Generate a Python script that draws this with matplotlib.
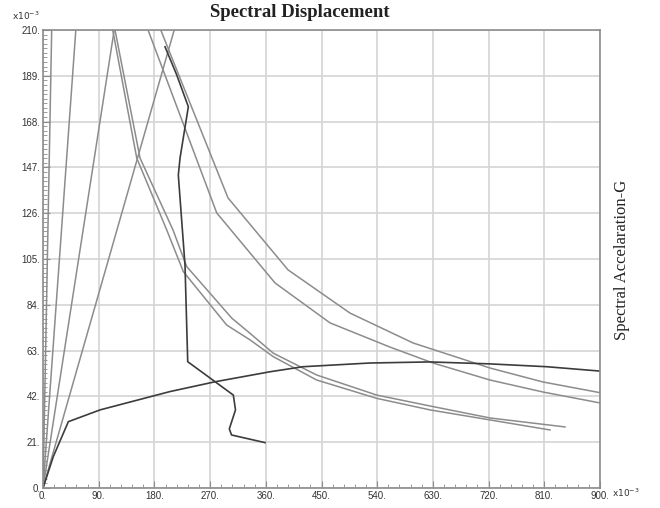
import matplotlib.pyplot as plt
from matplotlib.ticker import MultipleLocator

# Spectral displacement (x10^-3) / spectral acceleration (x10^-3 g) pairs

# constant-period radial lines: displacement reached at the top of the chart (Sa = 210)
period_tops = [14, 53, 115, 212]
sa_top = 210

# demand spectra (four damping levels)
demand_a_sd = [112.6, 151.4, 199.9, 226.7, 296.8, 334.5, 372.1, 442.2, 539.2, 625.3, 722.3, 819.2]
demand_a_sa = [210.0, 151.3, 118.3, 99.2, 74.7, 67.9, 60.2, 49.5, 41.1, 35.8, 31.2, 26.6]

demand_b_sd = [116.3, 156.7, 210.0, 232.2, 304.9, 334.5, 372.1, 442.2, 539.2, 625.3, 722.3, 843.4]
demand_b_sa = [210.0, 151.3, 118.3, 101.5, 77.9, 70.9, 61.8, 51.8, 42.6, 37.6, 32.1, 28.0]

demand_c_sd = [169.7, 280.7, 374.9, 463.7, 560.7, 630.2, 722.3, 807.9, 900.0]
demand_c_sa = [210.0, 126.1, 94.0, 75.7, 64.6, 57.3, 49.5, 44.0, 39.0]

demand_d_sd = [190.2, 298.9, 395.9, 496.0, 597.8, 722.3, 807.9, 900.0]
demand_d_sa = [210.0, 133.0, 100.0, 80.2, 66.5, 55.0, 48.6, 43.7]

# capacity curve
capacity_sd = [0, 16.6, 40.9, 92.1, 205.0, 278.0, 367.0, 420.0, 528.0, 625.0, 722.0, 814.0, 900.0]
capacity_sa = [0, 14.4, 30.4, 35.8, 44.2, 48.7, 53.3, 55.6, 57.3, 57.8, 56.9, 55.6, 53.6]

# performance point trace
perf_sd = [197.1, 216.0, 234.8, 221.4, 218.6, 229.4, 233.8, 307.5, 311.0, 301.0, 304.6, 358.7]
perf_sa = [202.3, 189.4, 174.8, 151.3, 143.5, 102.2, 57.9, 42.6, 35.8, 27.1, 24.3, 20.8]

x_ticks = [0, 90, 180, 270, 360, 450, 540, 630, 720, 810, 900]
y_ticks = [0, 21, 42, 63, 84, 105, 126, 147, 168, 189, 210]

GRAY = "#8c8c8c"
DARK = "#3c3c3c"

fig = plt.figure(figsize=(6.6, 5.08), dpi=100)
ax = fig.add_axes([0.0652, 0.0394, 0.8439, 0.9016])

for top in period_tops:
    ax.plot([0, top], [0, sa_top], color=GRAY, lw=1.1)

for sd, sa in [(demand_a_sd, demand_a_sa), (demand_b_sd, demand_b_sa),
               (demand_c_sd, demand_c_sa), (demand_d_sd, demand_d_sa)]:
    ax.plot(sd, sa, color=GRAY, lw=1.1)

ax.plot(capacity_sd, capacity_sa, color=DARK, lw=1.2)
ax.plot(perf_sd, perf_sa, color=DARK, lw=1.2)

ax.set_xlim(0, 900)
ax.set_ylim(0, 210)
ax.set_xticks(x_ticks)
ax.set_yticks(y_ticks)
ax.set_xticklabels([f"{t}." for t in x_ticks], fontsize=7, family="Liberation Sans", color="#333333")
ax.set_yticklabels([f"{t}." for t in y_ticks], fontsize=7, family="Liberation Sans", color="#333333")
ax.xaxis.set_minor_locator(MultipleLocator(18))
ax.yaxis.set_minor_locator(MultipleLocator(2.1))
ax.tick_params(which="both", direction="in", color=GRAY, top=False, right=False)
ax.tick_params(which="major", length=5, pad=2)
ax.tick_params(which="minor", length=3)
ax.grid(True, which="major", color="#d4d4d4", lw=1.2)
ax.set_axisbelow(True)
for sp in ax.spines.values():
    sp.set_color(GRAY)
    sp.set_linewidth(1.2)

fig.text(0.4545, 0.976, "Spectral Displacement", ha="center", va="center",
         fontsize=13.5, fontweight="bold", family="Liberation Serif", color="#222222")
fig.text(0.942, 0.488, "Spectral Accelaration-G", ha="center", va="center",
         rotation=90, fontsize=12, family="Liberation Serif", color="#222222")
fig.text(0.018, 0.968, r"x10$^{-3}$", ha="left", va="center", fontsize=6.5, color="#333333")
fig.text(0.928, 0.030, r"x10$^{-3}$", ha="left", va="center", fontsize=6.5, color="#333333")

fig.savefig("out.png", dpi=100)
